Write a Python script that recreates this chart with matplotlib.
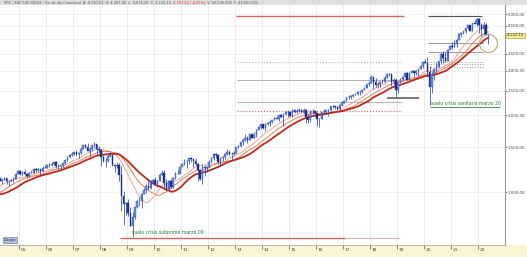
import numpy as np
import pandas as pd
import matplotlib
matplotlib.use("Agg")
import matplotlib.pyplot as plt
from matplotlib.patches import Rectangle
from matplotlib.ticker import FixedLocator, NullLocator
import matplotlib.transforms as mtransforms

plt.rcParams['font.family'] = ['DejaVu Sans']

# ---------------- data ----------------
# monthly closes used only to warm up the moving averages (Jan 2002 - Mar 2004)
warmup_close = [1130, 1107, 1147, 1077, 1067, 990, 912, 916, 815, 886, 936, 880,
                856, 841, 848, 917, 964, 975, 990, 1008, 996, 1051, 1058, 1112,
                1131, 1145, 1126]

# monthly S&P 500 candles, Apr 2004 - May 2022
close = [1107, 1121, 1141, 1102, 1104, 1115, 1130, 1174, 1212,
         1181, 1204, 1181, 1157, 1192, 1191, 1234, 1220, 1229, 1207, 1249, 1248,
         1280, 1281, 1295, 1311, 1270, 1270, 1277, 1304, 1336, 1378, 1401, 1418,
         1438, 1407, 1421, 1482, 1531, 1503, 1455, 1474, 1527, 1549, 1481, 1468,
         1379, 1331, 1323, 1386, 1400, 1280, 1267, 1283, 1166, 969, 896, 903,
         826, 735, 798, 873, 919, 919, 987, 1021, 1057, 1036, 1096, 1115,
         1074, 1104, 1169, 1187, 1089, 1031, 1102, 1049, 1141, 1183, 1181, 1258,
         1286, 1327, 1326, 1364, 1345, 1321, 1292, 1219, 1131, 1253, 1247, 1258,
         1312, 1366, 1408, 1398, 1310, 1362, 1379, 1407, 1441, 1412, 1416, 1426,
         1498, 1515, 1569, 1598, 1631, 1606, 1686, 1633, 1682, 1757, 1806, 1848,
         1783, 1859, 1872, 1884, 1924, 1960, 1931, 2003, 1972, 2018, 2068, 2059,
         1995, 2105, 2068, 2086, 2107, 2063, 2104, 1972, 1920, 2079, 2080, 2044,
         1940, 1932, 2060, 2065, 2097, 2099, 2174, 2171, 2168, 2126, 2199, 2239,
         2279, 2364, 2363, 2384, 2412, 2423, 2470, 2472, 2519, 2575, 2648, 2674,
         2824, 2714, 2641, 2648, 2705, 2718, 2816, 2902, 2914, 2712, 2760, 2507,
         2704, 2784, 2834, 2946, 2752, 2942, 2980, 2926, 2977, 3038, 3141, 3231,
         3226, 2954, 2585, 2912, 3044, 3100, 3271, 3500, 3363, 3270, 3622, 3756,
         3714, 3811, 3973, 4181, 4204, 4298, 4395, 4523, 4308, 4605, 4567, 4766,
         4516, 4374, 4530, 4132, 4132]
high = [1150, 1128, 1146, 1141, 1109, 1130, 1142, 1188, 1217,
        1217, 1212, 1229, 1192, 1199, 1219, 1246, 1245, 1243, 1233, 1270, 1276,
        1295, 1297, 1310, 1326, 1326, 1284, 1280, 1307, 1340, 1390, 1407, 1432,
        1441, 1461, 1439, 1498, 1535, 1541, 1556, 1504, 1538, 1576, 1552, 1523,
        1471, 1396, 1359, 1397, 1440, 1404, 1292, 1313, 1303, 1264, 1007, 918,
        944, 876, 832, 877, 930, 957, 996, 1039, 1080, 1101, 1113, 1130,
        1150, 1112, 1180, 1220, 1219, 1131, 1120, 1130, 1148, 1196, 1227, 1263,
        1303, 1344, 1332, 1366, 1371, 1346, 1357, 1307, 1230, 1293, 1278, 1270,
        1333, 1378, 1420, 1422, 1415, 1363, 1391, 1426, 1475, 1470, 1434, 1448,
        1510, 1530, 1570, 1598, 1687, 1655, 1698, 1709, 1730, 1776, 1814, 1849,
        1851, 1867, 1884, 1897, 1925, 1968, 1992, 2006, 2019, 2018, 2075, 2094,
        2064, 2119, 2114, 2126, 2135, 2130, 2132, 2113, 2021, 2094, 2116, 2104,
        2038, 1963, 2073, 2111, 2104, 2121, 2178, 2194, 2187, 2169, 2214, 2278,
        2301, 2371, 2401, 2399, 2419, 2454, 2484, 2491, 2519, 2582, 2657, 2695,
        2873, 2835, 2801, 2718, 2742, 2791, 2848, 2916, 2941, 2940, 2815, 2800,
        2708, 2813, 2860, 2949, 2955, 2964, 3028, 3014, 3022, 3050, 3154, 3248,
        3338, 3394, 3136, 2955, 3068, 3233, 3280, 3515, 3588, 3550, 3646, 3760,
        3870, 3950, 3994, 4219, 4238, 4302, 4429, 4538, 4546, 4608, 4744, 4809,
        4819, 4596, 4638, 4594, 4204]
low = [1102, 1077, 1113, 1078, 1060, 1102, 1091, 1128, 1173,
       1163, 1170, 1169, 1137, 1146, 1188, 1191, 1201, 1201, 1169, 1201, 1246,
       1245, 1253, 1268, 1280, 1245, 1219, 1224, 1253, 1290, 1327, 1360, 1385,
       1403, 1389, 1364, 1416, 1476, 1484, 1454, 1370, 1449, 1490, 1406, 1435,
       1270, 1316, 1257, 1311, 1373, 1272, 1200, 1247, 1107, 840, 741, 815,
       805, 735, 667, 784, 864, 881, 869, 979, 992, 1020, 1029, 1085,
       1071, 1045, 1105, 1170, 1040, 1028, 1011, 1040, 1042, 1131, 1173, 1187,
       1262, 1275, 1249, 1294, 1311, 1259, 1283, 1101, 1114, 1075, 1159, 1202,
       1258, 1312, 1340, 1357, 1292, 1267, 1325, 1355, 1397, 1403, 1343, 1398,
       1426, 1485, 1501, 1536, 1582, 1560, 1604, 1627, 1633, 1646, 1746, 1768,
       1770, 1738, 1834, 1815, 1860, 1915, 1930, 1905, 1964, 1821, 2001, 1973,
       1988, 1981, 2040, 2048, 2068, 2057, 2044, 1867, 1872, 1893, 2020, 1993,
       1812, 1810, 1937, 2034, 2026, 1992, 2075, 2148, 2120, 2098, 2084, 2187,
       2233, 2271, 2323, 2329, 2353, 2405, 2407, 2417, 2447, 2520, 2557, 2605,
       2683, 2533, 2585, 2553, 2594, 2691, 2698, 2796, 2864, 2604, 2631, 2346,
       2443, 2681, 2722, 2848, 2750, 2729, 2952, 2822, 2892, 2855, 3050, 3070,
       3214, 2855, 2192, 2447, 2766, 2966, 3101, 3205, 3209, 3234, 3279, 3633,
       3663, 3725, 3723, 3955, 4056, 4164, 4233, 4367, 4306, 4279, 4560, 4496,
       4222, 4115, 4157, 4129, 3811]

ma_periods = [12, 18, 24]                    # months
year_ticks = list(range(2005, 2023))
year_labels = [f"{y % 100:02d}" for y in year_ticks]
price_ticks = [1000, 1500, 2000, 2500, 3000, 3500, 4500, 5000]
last_price = 4132.15

# horizontal study levels (price values)
red_top_level = 4920
gray_top_level = 4920
fib_levels_a = [3251, 2756, 2265]      # 2013-2019 grey levels
red_dot_level = 2089
fib_levels_b = [3863, 3561, 3251, 3175, 3108]   # 2020-2022 grey levels
low_2018_level = 2342
subprime_level = 660
circle_price = 3860

title_parts = ['SPX - S&P 500 INDEX - Trv de día / mensual  A: 4.130,61  H: 4.207,00  '
               'L: 4.074,25  C: 4.132,15 ', '-1.757,52 (-4,25%)',
               ' V: 48.038.898  F: 31/05/2022']

# ---------------- figure ----------------
W, H = 527, 257
fig = plt.figure(figsize=(W / 100, H / 100), dpi=100)
fig.patch.set_facecolor('white')

def px2fx(px):
    return px / W

def px2fy(py):
    return 1 - py / H

# title bar and bottom strip
fig.add_artist(Rectangle((0, px2fy(5)), 1, 5 / H, transform=fig.transFigure,
                         facecolor='#dedede', edgecolor='none', zorder=0))
fig.add_artist(Rectangle((0, 0), 1, 12 / H, transform=fig.transFigure,
                         facecolor='#fbf5d2', edgecolor='none', zorder=0))

ax = fig.add_axes([0, 12 / H, 505 / W, 240 / H])
ax.set_facecolor('white')
ax.set_yscale('log')
ax.set_ylim(620, 5430)
ax.set_xlim(2004.296, 2023.0)

def px2yr(px):
    return 2005 + (px - 19) / 27.0

# grid
for y in year_ticks:
    ax.axvline(y, color='#e4e4e4', lw=0.5, zorder=0)
for p in price_ticks + [4000]:
    ax.axhline(p, color='#ececec', lw=0.5, zorder=0)

# candles
n = len(close)
xs = np.array([2004 + (3 + k + 0.5) / 12 for k in range(n)])
opens = [warmup_close[-1]] + close[:-1]
c = np.array(close, float)
o = np.array(opens, float)
ax.vlines(xs, low, high, color='#2b4db3', lw=0.55, zorder=3)
up = c >= o
ax.bar(xs[up], (c - o)[up], bottom=o[up], width=0.05, color='#6f8fe0',
       edgecolor='#2b4db3', lw=0.3, zorder=4)
ax.bar(xs[~up], (c - o)[~up], bottom=o[~up], width=0.05, color='#1d2f8c',
       edgecolor='#1d2f8c', lw=0.3, zorder=4)

# moving averages
all_close = pd.Series(warmup_close + close, dtype=float)
all_x = np.array([2002 + (k + 0.5) / 12 for k in range(len(all_close))])
ma_styles = [dict(color='#eaa39c', lw=0.7), dict(color='#dd8250', lw=0.7),
             dict(color='#c0281e', lw=1.3)]
for per, st in zip(ma_periods, ma_styles):
    ma = all_close.rolling(per).mean().values
    m = all_x >= 2004.2
    ax.plot(all_x[m], ma[m], zorder=2, **st)

# study lines
ax.hlines(red_top_level, px2yr(236), px2yr(404), color='#d9665e', lw=1.0, zorder=5)
ax.hlines(gray_top_level, px2yr(428), px2yr(482), color='#555555', lw=0.8, zorder=5)
for lv, ls in zip(fib_levels_a, [':', '-', '-']):
    ax.hlines(lv, px2yr(237), px2yr(402), color='#b5b5b5', lw=0.8, ls=ls, zorder=1)
ax.hlines(red_dot_level, px2yr(237), px2yr(402), color='#d9665e', lw=0.8, ls=':', zorder=1)
for lv, ls in zip(fib_levels_b, ['-', '-', ':', ':', ':']):
    ax.hlines(lv, px2yr(428), px2yr(483), color='#9a9a9a', lw=0.7, ls=ls, zorder=1)
ax.hlines(low_2018_level, px2yr(387), px2yr(419), color='#6e6e6e', lw=1.3, zorder=5)
ax.hlines(subprime_level, px2yr(120), px2yr(345), color='#d9665e', lw=1.0, zorder=5)
ax.hlines(subprime_level, px2yr(345), px2yr(400), color='#e8b0ac', lw=0.7, zorder=5)
ax.hlines(2160, px2yr(430), px2yr(500), color='#3a8a3a', lw=0.6, zorder=5)

ax.text(px2yr(132), 680, 'suelo crisis subprime marzo 09', fontsize=3.3,
        color='#2b7a2b', va='bottom', ha='left', zorder=6)
ax.text(px2yr(431), 2175, 'suelo crisis sanitaria marzo 20', fontsize=3.3,
        color='#2b7a2b', va='bottom', ha='left', zorder=6)

ax.plot([px2yr(488)], [circle_price], marker='o', ms=13, mfc='none',
        mec='#bfa868', mew=0.8, zorder=6)

# right axis
ax.yaxis.tick_right()
ax.yaxis.set_major_locator(FixedLocator(price_ticks))
ax.yaxis.set_minor_locator(NullLocator())
ax.set_yticklabels([f"{p:,.2f}".replace(',', 'X').replace('.', ',').replace('X', '.')
                    for p in price_ticks])
ax.tick_params(axis='y', which='major', direction='out', length=1.5, width=0.5,
               labelsize=2.8, pad=0.6, colors='#444444')
ax.annotate('4.132,15', xy=(1.0, last_price), xycoords=('axes fraction', 'data'),
            xytext=(1.3, 0), textcoords='offset points', fontsize=2.8, va='center',
            ha='left', color='#333333',
            bbox=dict(boxstyle='square,pad=0.12', fc='#f3e98e', ec='#b0a040', lw=0.4))

# bottom axis
ax.xaxis.set_major_locator(FixedLocator(year_ticks))
ax.xaxis.set_minor_locator(NullLocator())
ax.set_xticklabels([])
ax.tick_params(axis='x', direction='out', length=3, width=0.5, colors='#555555')
trans = mtransforms.blended_transform_factory(ax.transData, ax.transAxes)
for y, lab in zip(year_ticks, year_labels):
    ax.text(y + 0.06, -0.012, lab, transform=trans, fontsize=3.2, color='#444444',
            va='top', ha='left', clip_on=False)

for s in ['left', 'top']:
    ax.spines[s].set_visible(False)
ax.spines['right'].set_color('#999999')
ax.spines['right'].set_linewidth(0.8)
ax.spines['bottom'].set_color('#aaaaaa')
ax.spines['bottom'].set_linewidth(0.6)

# small tag at bottom left
ax.text(0.007, 0.012, 'Dibujos', transform=ax.transAxes, fontsize=2.4,
        color='#223366', va='bottom', ha='left',
        bbox=dict(boxstyle='square,pad=0.2', fc='#b3bfdc', ec='#5a6a99', lw=0.4))

# title (chained pieces so they never overlap)
t0 = fig.text(px2fx(4), px2fy(2.6), title_parts[0], fontsize=2.5, color='#555555',
              va='center', ha='left')
t1 = fig.add_artist(plt.Annotation(title_parts[1], xy=(1, 0.5), xycoords=t0,
                                   va='center', ha='left', fontsize=2.5, color='#cc3333'))
t2 = fig.add_artist(plt.Annotation(title_parts[2], xy=(1, 0.5), xycoords=t1,
                                   va='center', ha='left', fontsize=2.5, color='#555555'))

fig.savefig('out.png', dpi=100)
